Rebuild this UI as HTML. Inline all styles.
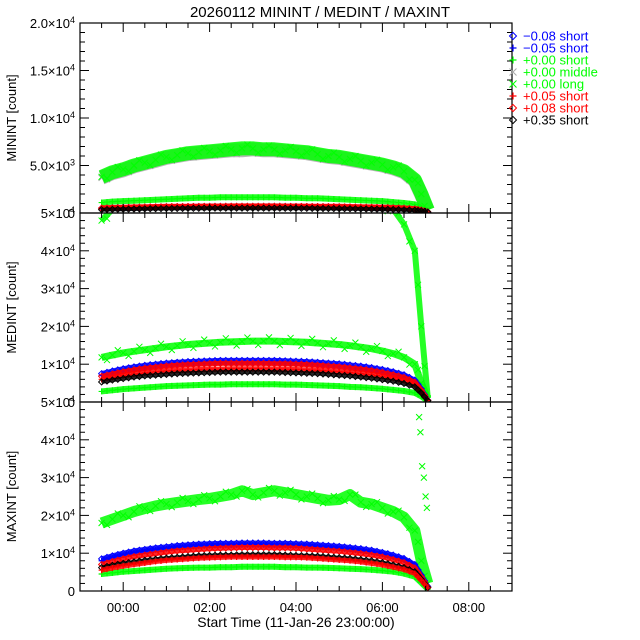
<!DOCTYPE html>
<html><head><meta charset="utf-8"><style>
body{margin:0;background:#fff;}
svg{display:block;font-family:"Liberation Sans",sans-serif;}
</style></head><body>
<svg id="chart" width="640" height="640" xmlns="http://www.w3.org/2000/svg"></svg>
<script>
// ---- data ----
const times = [-0.5,-0.25,0,0.25,0.5,0.75,1,1.25,1.5,1.75,2,2.25,2.5,2.75,3,3.25,3.5,3.75,4,4.25,4.5,4.75,5,5.25,5.5,5.75,6,6.25,6.5,6.75,6.9,7.05];
// MININT
const minLong   = [3800,4300,4600,5000,5300,5600,5900,6100,6300,6400,6500,6600,6700,6800,6800,6700,6700,6600,6500,6400,6200,6000,5900,5700,5500,5300,5100,4800,4400,3500,2000,300];
const minMiddle = [3700,4200,4500,4900,5200,5500,5800,6000,6200,6300,6400,6500,6600,6600,6700,6600,6600,6500,6400,6300,6100,5900,5800,5600,5400,5200,5000,4700,4300,3400,1900,300];
const minShort0 = [1100,1200,1250,1300,1350,1400,1450,1500,1550,1600,1600,1650,1650,1650,1650,1650,1650,1600,1600,1550,1550,1500,1450,1400,1350,1300,1250,1150,1050,900,500,200];
const minBlueD  = [500,550,580,600,620,640,660,670,680,690,700,700,700,700,700,700,700,700,690,680,670,660,650,630,610,590,570,540,500,420,300,120];
const minBlueP  = [450,480,510,530,550,570,590,600,610,620,630,630,630,630,630,630,630,620,620,610,600,590,580,560,540,520,500,480,440,370,260,100];
const minRedP   = [550,580,610,640,660,680,700,710,720,730,740,740,750,750,750,750,750,740,740,730,720,710,700,680,660,640,620,580,540,460,330,130];
const minRedD   = [500,530,560,590,610,630,650,660,670,680,690,690,690,690,690,690,690,680,680,670,660,650,640,620,600,580,560,530,490,410,300,120];
const minBlack  = [350,380,400,420,440,460,470,480,490,500,510,510,510,510,510,510,510,500,500,490,480,470,460,450,430,410,390,370,340,290,220,90];
// MEDINT
const medLong   = [48000,51000,53000,55000,56000,57000,58000,59000,59000,60000,60000,60000,60000,60000,60000,60000,60000,60000,59000,59000,58000,57000,56000,55000,54000,53000,52000,51000,47000,40000,20000,1000];
const medMiddle = [11800,12400,13000,13400,13800,14200,14600,14900,15200,15400,15600,15800,15900,16000,16100,16100,16100,16000,15900,15800,15600,15400,15200,14900,14500,14100,13500,12800,11800,10000,5000,800];
const medShort0 = [2800,3100,3400,3600,3800,4000,4200,4300,4400,4500,4600,4600,4700,4700,4700,4700,4700,4600,4600,4500,4400,4300,4200,4000,3900,3700,3500,3200,2900,2400,1500,300];
const medBlueD  = [7500,8200,8800,9300,9700,10000,10300,10500,10700,10800,10900,11000,11000,11000,11000,11000,11000,10900,10800,10700,10500,10300,10100,9800,9500,9100,8600,8000,7200,5800,3500,500];
const medBlueP  = [7000,7600,8200,8700,9100,9400,9700,9900,10100,10200,10300,10400,10400,10400,10400,10400,10400,10300,10200,10100,9900,9700,9500,9200,8900,8500,8000,7400,6700,5400,3200,450];
const medRedP   = [6000,6500,7000,7400,7700,8000,8200,8400,8500,8600,8700,8700,8800,8800,8800,8800,8700,8700,8600,8500,8400,8200,8000,7800,7500,7200,6800,6300,5700,4600,2700,400];
const medRedD   = [6800,7400,8000,8500,8900,9200,9500,9700,9900,10000,10100,10200,10200,10200,10200,10200,10100,10100,10000,9900,9700,9500,9300,9000,8700,8300,7800,7200,6500,5200,3100,450];
const medBlack  = [5300,5800,6200,6600,6900,7100,7300,7500,7600,7700,7800,7900,7900,7900,7900,7900,7900,7800,7700,7600,7500,7300,7100,6900,6600,6300,5900,5500,4900,4000,2400,350];
// MAXINT
const maxLong   = [18000,19000,20000,21000,21800,22500,23000,23400,23800,24200,24500,25000,25500,26500,25500,26000,26500,26000,25500,25000,24500,24000,24200,25500,23500,23000,22000,21000,19500,16000,8000,2000];
const maxSpikes = [46000,42000,33000,30000,25000,22000];
const spikeTimes= [6.85,6.88,6.92,6.96,7.0,7.03];
const maxShort0 = [4500,4800,5100,5300,5500,5700,5900,6000,6100,6200,6200,6300,6300,6400,6400,6400,6400,6300,6300,6200,6200,6100,6000,5900,5800,5600,5400,5100,4600,3800,2200,500];
const maxBlueD  = [8500,9300,10000,10600,11000,11400,11700,12000,12200,12400,12500,12600,12600,12700,12700,12700,12600,12600,12500,12400,12200,12000,11800,11500,11200,10800,10200,9500,8600,7000,4200,1200];
const maxBlueP  = [8000,8800,9500,10100,10500,10900,11200,11500,11700,11900,12000,12100,12100,12200,12200,12200,12100,12100,12000,11900,11700,11500,11300,11000,10700,10300,9700,9000,8200,6700,4000,1100];
const maxRedP   = [5500,6100,6600,7000,7400,7800,8100,8300,8500,8700,8800,8900,9000,9000,9000,9000,9000,8900,8900,8800,8600,8400,8200,8000,7700,7300,6900,6300,5700,4600,2800,800];
const maxRedD   = [7000,7800,8500,9100,9500,9900,10300,10600,10800,11000,11200,11300,11400,11500,11500,11500,11400,11400,11300,11100,10900,10700,10500,10200,9900,9500,9000,8300,7500,6100,3700,1000];
const maxBlack  = [6200,6800,7300,7700,8100,8400,8700,8900,9100,9300,9400,9500,9500,9600,9600,9600,9600,9500,9400,9300,9200,9000,8800,8600,8300,8000,7500,6900,6200,5100,3100,900];

const legendLabels = ["\u22120.08 short","\u22120.05 short","+0.00 short","+0.00 middle","+0.00 long","+0.05 short","+0.08 short","+0.35 short"];
const legendColors = ["#0000ff","#0000ff","#00ff00","#00ff00","#00ff00","#ff0000","#ff0000","#000000"];
const legendSymColors = ["#0000ff","#0000ff","#00ff00","#aaaaaa","#00ff00","#ff0000","#ff0000","#000000"];
const legendSyms   = ["d","p","p","x","x","p","d","d"];
const xTicks = [0,2,4,6,8];
const xTickLabels = ["00:00","02:00","04:00","06:00","08:00"];

// ---- layout ----
const NS="http://www.w3.org/2000/svg";
const svg=document.getElementById('chart');
const L=80,R=512,X0=-1,X1=9;
const xs=t=>L+(t-X0)/(X1-X0)*(R-L);
function mk(tag,attrs,parent){const e=document.createElementNS(NS,tag);for(const k in attrs)e.setAttribute(k,attrs[k]);(parent||svg).appendChild(e);return e;}

const panels=[
 {name:"minint",top:23,bot:213,max:20000,label:"MININT [count]",ticks:[0,5000,10000,15000,20000],tl:[["0",""],["5.0\u00d710","3"],["1.0\u00d710","4"],["1.5\u00d710","4"],["2.0\u00d710","4"]],minor:1000,
  series:[[minMiddle,"#aaaaaa","x",14],[minLong,"#00ff00","x",14],[minShort0,"#00ff00","p",6],[minBlueD,"#0000ff","d",5],[minBlueP,"#0000ff","p",5],[minRedP,"#ff0000","p",5],[minRedD,"#ff0000","d",5],[minBlack,"#000000","d",4]]},
 {name:"medint",top:213,bot:402,max:50000,label:"MEDINT [count]",ticks:[0,10000,20000,30000,40000,50000],tl:[["0",""],["1\u00d710","4"],["2\u00d710","4"],["3\u00d710","4"],["4\u00d710","4"],["5\u00d710","4"]],minor:2000,
  series:[[medLong,"#00ff00","x",6],[medMiddle,"#00ff00","x",7],[medShort0,"#00ff00","p",6],[medBlueD,"#0000ff","d",5],[medBlueP,"#0000ff","p",5],[medRedD,"#ff0000","d",5],[medRedP,"#ff0000","p",5],[medBlack,"#000000","d",4]]},
 {name:"maxint",top:402,bot:591,max:50000,label:"MAXINT [count]",ticks:[0,10000,20000,30000,40000,50000],tl:[["0",""],["1\u00d710","4"],["2\u00d710","4"],["3\u00d710","4"],["4\u00d710","4"],["5\u00d710","4"]],minor:2000,
  series:[[maxLong,"#00ff00","x",11],[maxShort0,"#00ff00","p",6],[maxBlueD,"#0000ff","d",5],[maxBlueP,"#0000ff","p",5],[maxRedD,"#ff0000","d",5],[maxBlack,"#000000","d",4],[maxRedP,"#ff0000","p",5]]}
];

function sym(g,x,y,c,s,r){
  if(s==="d") mk('path',{d:`M${x} ${y-r}L${x+r} ${y}L${x} ${y+r}L${x-r} ${y}Z`,fill:'none',stroke:c,'stroke-width':1},g);
  else if(s==="p") mk('path',{d:`M${x-r} ${y}H${x+r}M${x} ${y-r}V${y+r}`,stroke:c,'stroke-width':1.2},g);
  else mk('path',{d:`M${x-r} ${y-r}L${x+r} ${y+r}M${x-r} ${y+r}L${x+r} ${y-r}`,stroke:c,'stroke-width':1},g);
}

mk('text',{x:320,y:17,'text-anchor':'middle','font-size':15,fill:'#000',}).textContent="20260112 MININT / MEDINT / MAXINT";

panels.forEach((p,pi)=>{
  const ys=v=>p.bot-v/p.max*(p.bot-p.top);
  const g=mk('g',{});
  const cid='clip'+pi;
  const cp=mk('clipPath',{id:cid},g);mk('rect',{x:L,y:p.top,width:R-L,height:p.bot-p.top},cp);
  const dg=mk('g',{'clip-path':`url(#${cid})`},g);
  p.series.forEach((s,si)=>{
    const [vals,c,sh,w]=s;
    const sg=mk('g',{},dg);
    
    
    const pts=vals.map((v,i)=>xs(times[i]).toFixed(1)+','+ys(v).toFixed(1)).join(' ');
    mk('polyline',{points:pts,fill:'none',stroke:c,'stroke-width':w,'stroke-linejoin':'round','opacity':0.85},sg);
    vals.forEach((v,i)=>{sym(sg,xs(times[i]),ys(v),c,sh,3);
      if(i<vals.length-1){const tm=(times[i]+times[i+1])/2;sym(sg,xs(tm),ys((v+vals[i+1])/2+(sh==="x"?(i%2?1:-1)*p.max*0.02:0)),c,sh,3);}
    });
  });
  if(pi===2){
    const sg=mk('g',{},dg);
    
    
    maxSpikes.forEach((v,i)=>sym(sg,xs(spikeTimes[i]),ys(v),"#00ff00","x",3));
  }
  mk('rect',{x:L,y:p.top,width:R-L,height:p.bot-p.top,fill:'none',stroke:'#000','stroke-width':1.2},g);
  for(let v=0;v<=p.max;v+=p.minor){
    const major=p.ticks.includes(v);const len=major?9:5;
    mk('line',{x1:L,x2:L+len,y1:ys(v),y2:ys(v),stroke:'#000'},g);
    mk('line',{x1:R,x2:R-len,y1:ys(v),y2:ys(v),stroke:'#000'},g);
  }
  p.ticks.forEach((v,i)=>{
    const t=mk('text',{x:L-5,y:ys(v)+5,'text-anchor':'end','font-size':13,fill:'#000',},g);
    t.textContent=p.tl[i][0];
    if(p.tl[i][1]){const sp=mk('tspan',{dy:-5,'font-size':9},t);sp.textContent=p.tl[i][1];}
  });
  for(let h=-1;h<=9;h+=0.5){
    const major=Number.isInteger(h/2);const len=major?9:5;
    mk('line',{x1:xs(h),x2:xs(h),y1:p.bot,y2:p.bot-len,stroke:'#000'},g);
    mk('line',{x1:xs(h),x2:xs(h),y1:p.top,y2:p.top+len,stroke:'#000'},g);
  }
  const yl=(p.top+p.bot)/2;
  mk('text',{x:16,y:yl,transform:`rotate(-90 16 ${yl})`,'text-anchor':'middle','font-size':13,fill:'#000',}).textContent=p.label;
});

xTicks.forEach((h,i)=>{
  mk('text',{x:xs(h),y:612,'text-anchor':'middle','font-size':13,fill:'#000',}).textContent=xTickLabels[i];
});
mk('text',{x:296,y:627,'text-anchor':'middle','font-size':14,fill:'#000',}).textContent="Start Time (11-Jan-26 23:00:00)";

const lg=mk('g',{});
legendLabels.forEach((lab,i)=>{
  const y=36+i*12;
  const e=mk('g',{},lg);
  
  
  sym(e,513,y,legendSymColors[i],legendSyms[i],3.5);
  mk('text',{x:523,y:y+4.5,'font-size':13,fill:legendColors[i]},e).textContent=lab;
});
</script>
</body></html>
